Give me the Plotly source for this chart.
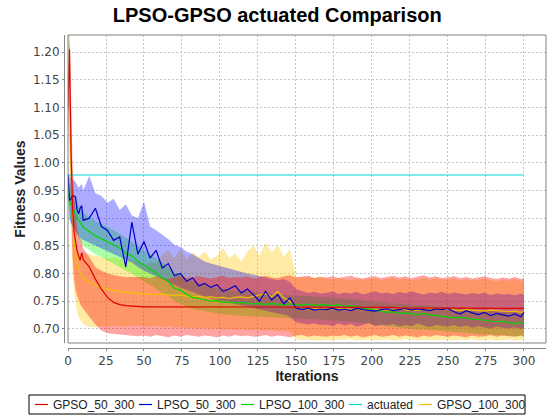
import plotly.graph_objects as go

# ---------------- data ----------------
ITER = list(range(10)) + list(range(10, 299, 4)) + [300]

GPSO_50_MEAN = [1.100, 1.205, 1.020, 0.920, 0.875, 0.852, 0.840, 0.832, 0.824, 0.838,
                0.825, 0.812, 0.790, 0.772, 0.757, 0.748, 0.744, 0.742, 0.741, 0.741,
                0.740, 0.740, 0.740, 0.740, 0.740, 0.739, 0.739, 0.739, 0.739, 0.739,
                0.739, 0.739, 0.739, 0.739, 0.739, 0.739, 0.739, 0.739, 0.739, 0.739,
                0.739, 0.739, 0.739, 0.739, 0.740, 0.739, 0.739, 0.739, 0.739, 0.739,
                0.739, 0.739, 0.739, 0.739, 0.739, 0.739, 0.739, 0.739, 0.739, 0.739,
                0.739, 0.739, 0.738, 0.738, 0.738, 0.738, 0.738, 0.738, 0.738, 0.738,
                0.738, 0.738, 0.738, 0.738, 0.738, 0.738, 0.738, 0.737, 0.737, 0.737,
                0.737, 0.737, 0.737, 0.737]
GPSO_50_UP = [1.150, 1.232, 1.120, 1.000, 0.940, 0.905, 0.885, 0.870, 0.862, 0.858,
              0.845, 0.830, 0.812, 0.805, 0.800, 0.797, 0.795, 0.794, 0.794, 0.795,
              0.794, 0.792, 0.795, 0.793, 0.790, 0.794, 0.796, 0.792, 0.793, 0.795,
              0.793, 0.791, 0.794, 0.796, 0.792, 0.794, 0.793, 0.795, 0.791, 0.794,
              0.796, 0.793, 0.792, 0.795, 0.797, 0.793, 0.794, 0.796, 0.792, 0.794,
              0.793, 0.795, 0.792, 0.794, 0.796, 0.793, 0.791, 0.794, 0.795, 0.792,
              0.794, 0.796, 0.793, 0.795, 0.792, 0.794, 0.797, 0.793, 0.795, 0.792,
              0.793, 0.795, 0.792, 0.794, 0.791, 0.793, 0.795, 0.792, 0.790, 0.793,
              0.791, 0.794, 0.790, 0.792]
GPSO_50_LO = [1.050, 1.150, 0.930, 0.830, 0.790, 0.770, 0.760, 0.752, 0.745, 0.740,
              0.735, 0.722, 0.708, 0.697, 0.692, 0.690, 0.689, 0.688, 0.688, 0.687,
              0.688, 0.686, 0.689, 0.687, 0.685, 0.688, 0.686, 0.689, 0.687, 0.686,
              0.688, 0.687, 0.685, 0.688, 0.686, 0.689, 0.687, 0.688, 0.686, 0.687,
              0.689, 0.686, 0.688, 0.687, 0.685, 0.688, 0.689, 0.686, 0.688, 0.687,
              0.686, 0.688, 0.687, 0.689, 0.686, 0.688, 0.685, 0.687, 0.689, 0.686,
              0.687, 0.689, 0.686, 0.688, 0.687, 0.685, 0.688, 0.686, 0.689, 0.687,
              0.686, 0.688, 0.687, 0.685, 0.688, 0.686, 0.687, 0.689, 0.686, 0.688,
              0.687, 0.686, 0.688, 0.687]

LPSO_50_MEAN = [0.978, 0.932, 0.935, 0.941, 0.940, 0.938, 0.915, 0.908, 0.918, 0.923,
                0.896, 0.900, 0.918, 0.885, 0.878, 0.860, 0.866, 0.812, 0.893, 0.835,
                0.858, 0.828, 0.842, 0.810, 0.818, 0.796, 0.800, 0.786, 0.792, 0.778,
                0.782, 0.775, 0.780, 0.768, 0.772, 0.778, 0.765, 0.772, 0.762, 0.750,
                0.768, 0.752, 0.762, 0.745, 0.756, 0.738, 0.735, 0.737, 0.734, 0.736,
                0.735, 0.737, 0.734, 0.736, 0.733, 0.737, 0.735, 0.734, 0.732, 0.735,
                0.736, 0.733, 0.735, 0.737, 0.734, 0.736, 0.735, 0.733, 0.736, 0.735,
                0.737, 0.731, 0.727, 0.733, 0.729, 0.726, 0.730, 0.724, 0.728, 0.725,
                0.723, 0.727, 0.722, 0.730]
LPSO_50_UP = [0.980, 0.975, 0.972, 0.970, 0.968, 0.966, 0.960, 0.955, 0.958, 0.962,
              0.950, 0.976, 0.945, 0.940, 0.928, 0.935, 0.915, 0.925, 0.905, 0.900,
              0.930, 0.885, 0.878, 0.870, 0.862, 0.852, 0.848, 0.840, 0.835, 0.828,
              0.822, 0.818, 0.815, 0.812, 0.808, 0.805, 0.802, 0.800, 0.798, 0.795,
              0.792, 0.790, 0.788, 0.790, 0.785, 0.772, 0.768, 0.765, 0.767, 0.764,
              0.765, 0.768, 0.763, 0.766, 0.764, 0.767, 0.762, 0.765, 0.768, 0.764,
              0.766, 0.763, 0.767, 0.764, 0.768, 0.765, 0.762, 0.766, 0.764, 0.767,
              0.763, 0.766, 0.764, 0.762, 0.765, 0.763, 0.766, 0.761, 0.764, 0.762,
              0.763, 0.761, 0.764, 0.762]
LPSO_50_LO = [0.975, 0.900, 0.890, 0.885, 0.880, 0.875, 0.870, 0.868, 0.865, 0.862,
              0.860, 0.855, 0.850, 0.845, 0.840, 0.835, 0.830, 0.825, 0.820, 0.812,
              0.805, 0.800, 0.795, 0.790, 0.785, 0.780, 0.775, 0.770, 0.766, 0.762,
              0.758, 0.755, 0.752, 0.750, 0.748, 0.745, 0.742, 0.740, 0.738, 0.735,
              0.733, 0.730, 0.728, 0.726, 0.722, 0.712, 0.710, 0.708, 0.710, 0.707,
              0.708, 0.705, 0.710, 0.706, 0.709, 0.704, 0.707, 0.711, 0.705, 0.708,
              0.706, 0.709, 0.704, 0.707, 0.705, 0.710, 0.706, 0.703, 0.707, 0.705,
              0.704, 0.707, 0.703, 0.706, 0.702, 0.705, 0.703, 0.701, 0.704, 0.702,
              0.701, 0.703, 0.700, 0.702]

LPSO_100_MEAN = [0.950, 0.930, 0.924, 0.918, 0.911, 0.905, 0.899, 0.896, 0.892, 0.888,
                 0.884, 0.876, 0.868, 0.863, 0.857, 0.851, 0.846, 0.837, 0.832, 0.822,
                 0.815, 0.808, 0.801, 0.792, 0.786, 0.773, 0.770, 0.762, 0.757, 0.755,
                 0.752, 0.750, 0.751, 0.748, 0.749, 0.747, 0.748, 0.746, 0.745, 0.746,
                 0.744, 0.746, 0.745, 0.743, 0.745, 0.744, 0.743, 0.745, 0.742, 0.744,
                 0.743, 0.742, 0.744, 0.741, 0.742, 0.740, 0.738, 0.735, 0.733, 0.731,
                 0.730, 0.731, 0.728, 0.729, 0.727, 0.726, 0.728, 0.725, 0.724, 0.723,
                 0.722, 0.720, 0.721, 0.719, 0.718, 0.717, 0.716, 0.715, 0.713, 0.714,
                 0.711, 0.709, 0.712, 0.708]
LPSO_100_UP = [0.975, 0.960, 0.952, 0.945, 0.938, 0.932, 0.926, 0.922, 0.918, 0.914,
               0.910, 0.902, 0.895, 0.890, 0.884, 0.878, 0.872, 0.864, 0.858, 0.850,
               0.842, 0.835, 0.828, 0.820, 0.812, 0.802, 0.798, 0.790, 0.785, 0.782,
               0.778, 0.775, 0.774, 0.772, 0.771, 0.769, 0.768, 0.767, 0.766, 0.765,
               0.764, 0.763, 0.762, 0.762, 0.761, 0.760, 0.760, 0.759, 0.758, 0.758,
               0.757, 0.757, 0.756, 0.755, 0.755, 0.754, 0.752, 0.750, 0.749, 0.748,
               0.747, 0.746, 0.745, 0.745, 0.744, 0.743, 0.743, 0.742, 0.741, 0.740,
               0.739, 0.738, 0.738, 0.737, 0.736, 0.735, 0.734, 0.733, 0.732, 0.732,
               0.731, 0.730, 0.730, 0.729]
LPSO_100_LO = [0.930, 0.900, 0.892, 0.885, 0.878, 0.872, 0.866, 0.862, 0.858, 0.854,
               0.850, 0.842, 0.835, 0.830, 0.825, 0.818, 0.812, 0.805, 0.800, 0.792,
               0.786, 0.780, 0.773, 0.765, 0.760, 0.750, 0.746, 0.740, 0.736, 0.734,
               0.731, 0.729, 0.728, 0.726, 0.726, 0.724, 0.724, 0.723, 0.722, 0.722,
               0.721, 0.721, 0.720, 0.720, 0.719, 0.719, 0.718, 0.718, 0.717, 0.717,
               0.716, 0.716, 0.715, 0.714, 0.714, 0.713, 0.711, 0.709, 0.707, 0.705,
               0.704, 0.703, 0.702, 0.701, 0.700, 0.699, 0.699, 0.698, 0.697, 0.696,
               0.695, 0.694, 0.694, 0.693, 0.692, 0.691, 0.690, 0.690, 0.689, 0.688,
               0.688, 0.687, 0.687, 0.686]

ACTUATED_VALUE = 0.978

GPSO_100_MEAN = [1.170, 1.120, 0.990, 0.905, 0.860, 0.838, 0.822, 0.810, 0.802, 0.797,
                 0.792, 0.785, 0.779, 0.775, 0.772, 0.769, 0.767, 0.766, 0.765, 0.764,
                 0.764, 0.763, 0.762, 0.763, 0.761, 0.760, 0.761, 0.759, 0.758, 0.759,
                 0.757, 0.758, 0.756, 0.757, 0.755, 0.757, 0.758, 0.756, 0.759, 0.761,
                 0.764, 0.758, 0.768, 0.756, 0.750, 0.739, 0.736, 0.735, 0.736, 0.737,
                 0.736, 0.735, 0.736, 0.737, 0.735, 0.736, 0.734, 0.735, 0.736, 0.734,
                 0.735, 0.734, 0.736, 0.735, 0.733, 0.734, 0.735, 0.737, 0.736, 0.735,
                 0.736, 0.734, 0.733, 0.735, 0.734, 0.733, 0.732, 0.734, 0.733, 0.732,
                 0.731, 0.732, 0.730, 0.731]
GPSO_100_UP = [1.232, 1.232, 1.080, 0.960, 0.900, 0.870, 0.850, 0.840, 0.832, 0.828,
               0.840, 0.835, 0.832, 0.830, 0.828, 0.830, 0.826, 0.828, 0.825, 0.822,
               0.815, 0.820, 0.818, 0.835, 0.842, 0.828, 0.845, 0.826, 0.838, 0.830,
               0.840, 0.825, 0.832, 0.846, 0.828, 0.836, 0.822, 0.840, 0.850, 0.832,
               0.856, 0.838, 0.852, 0.830, 0.845, 0.795, 0.793, 0.794, 0.792, 0.795,
               0.791, 0.789, 0.792, 0.790, 0.788, 0.791, 0.789, 0.790, 0.792, 0.789,
               0.790, 0.792, 0.789, 0.791, 0.788, 0.790, 0.792, 0.789, 0.791, 0.790,
               0.789, 0.791, 0.788, 0.790, 0.787, 0.789, 0.791, 0.788, 0.786, 0.789,
               0.787, 0.790, 0.786, 0.788]
GPSO_100_LO = [1.080, 1.000, 0.880, 0.800, 0.765, 0.745, 0.730, 0.722, 0.716, 0.712,
               0.708, 0.704, 0.703, 0.705, 0.704, 0.706, 0.705, 0.704, 0.706, 0.705,
               0.705, 0.704, 0.706, 0.703, 0.705, 0.702, 0.704, 0.701, 0.703, 0.700,
               0.702, 0.700, 0.701, 0.699, 0.700, 0.698, 0.700, 0.697, 0.699, 0.698,
               0.697, 0.698, 0.696, 0.697, 0.695, 0.682, 0.680, 0.681, 0.679, 0.680,
               0.680, 0.679, 0.681, 0.680, 0.682, 0.679, 0.680, 0.681, 0.679, 0.680,
               0.681, 0.679, 0.680, 0.682, 0.680, 0.679, 0.681, 0.680, 0.679, 0.681,
               0.680, 0.679, 0.681, 0.680, 0.682, 0.679, 0.680, 0.681, 0.679, 0.680,
               0.681, 0.679, 0.680, 0.680]

SERIES_NAMES = ["GPSO_50_300", "LPSO_50_300", "LPSO_100_300", "actuated", "GPSO_100_300"]
X_TICKS = [0, 25, 50, 75, 100, 125, 150, 175, 200, 225, 250, 275, 300]
Y_TICKS = [0.70, 0.75, 0.80, 0.85, 0.90, 0.95, 1.00, 1.05, 1.10, 1.15, 1.20]

# ---------------- styling ----------------
LINE_COL = {"GPSO_50_300": "#e00000", "LPSO_50_300": "#0000c8", "LPSO_100_300": "#00d800",
            "actuated": "#00d8d8", "GPSO_100_300": "#f0c000"}
BAND_COL = {"GPSO_50_300": "rgba(255,0,0,0.36)", "LPSO_50_300": "rgba(0,0,255,0.33)",
            "LPSO_100_300": "rgba(0,255,0,0.33)", "GPSO_100_300": "rgba(255,200,0,0.36)"}

series = {
    "GPSO_50_300": (GPSO_50_MEAN, GPSO_50_UP, GPSO_50_LO),
    "LPSO_50_300": (LPSO_50_MEAN, LPSO_50_UP, LPSO_50_LO),
    "LPSO_100_300": (LPSO_100_MEAN, LPSO_100_UP, LPSO_100_LO),
    "actuated": ([ACTUATED_VALUE] * len(ITER), None, None),
    "GPSO_100_300": (GPSO_100_MEAN, GPSO_100_UP, GPSO_100_LO),
}

draw_order = list(reversed(SERIES_NAMES))  # series 0 drawn last (on top)

fig = go.Figure()
# bands first
for name in draw_order:
    mean, up, lo = series[name]
    if up is None:
        continue
    fig.add_trace(go.Scatter(
        x=ITER + ITER[::-1], y=up + lo[::-1], fill="toself", fillcolor=BAND_COL[name],
        line=dict(width=0), mode="lines", hoverinfo="skip", showlegend=False))
# lines
for name in draw_order:
    mean, up, lo = series[name]
    fig.add_trace(go.Scatter(x=ITER, y=mean, mode="lines", name=name,
                             line=dict(color=LINE_COL[name], width=1.2), showlegend=False))

# geometry (pixels)
W, H = 559, 417
L, R, T, B = 64, 13, 35, 69
pw, ph = W - L - R, H - T - B
def px(p):
    return (p - L) / pw
def py(q):
    return (H - B - q) / ph

x_dom0 = px(68)
y_dom0 = py(343)

TICK_FONT = dict(family="DejaVu Sans", size=12, color="#444444")
GRID = "#c4c4c4"

fig.update_layout(
    width=W, height=H,
    margin=dict(l=L, r=R, t=T, b=B, autoexpand=False),
    paper_bgcolor="white", plot_bgcolor="white",
    title=dict(text="<b>LPSO-GPSO actuated Comparison</b>", x=0.496, xref="container",
               xanchor="center", y=1 - 15 / H, yanchor="middle",
               font=dict(family="Liberation Sans", size=20, color="black")),
    showlegend=False,
    xaxis=dict(domain=[x_dom0, 1], range=[0, 314.5], anchor="free", position=0,
               tickvals=X_TICKS, ticktext=[str(v) for v in X_TICKS],
               showline=True, linecolor="#888888", linewidth=1,
               ticks="outside", ticklen=2, tickcolor="#888888",
               showgrid=True, gridcolor=GRID, griddash="2px,2px", gridwidth=1,
               zeroline=False, tickfont=TICK_FONT,
               title=dict(text="<b>Iterations</b>", standoff=3,
                          font=dict(family="Liberation Sans", size=14, color="#222222"))),
    yaxis=dict(domain=[y_dom0, 1], range=[0.6746, 1.2308], anchor="free", position=0,
               tickvals=Y_TICKS, ticktext=["%.2f" % v for v in Y_TICKS],
               showline=True, linecolor="#888888", linewidth=1,
               ticks="outside", ticklen=2, tickcolor="#888888",
               showgrid=True, gridcolor=GRID, griddash="2px,2px", gridwidth=1,
               zeroline=False, tickfont=TICK_FONT,
               title=dict(text="<b>Fitness Values</b>", standoff=2,
                          font=dict(family="Liberation Sans", size=14, color="#222222"))),
)

# plot outline
fig.add_shape(type="rect", xref="paper", yref="paper", x0=x_dom0, x1=1, y0=y_dom0, y1=1,
              line=dict(color="#808080", width=1), layer="above")

# custom legend box (below the plot)
leg_top, leg_bot = 395, 414
fig.add_shape(type="rect", xref="paper", yref="paper", x0=px(29), x1=px(525),
              y0=py(leg_bot), y1=py(leg_top), line=dict(color="black", width=1))
text_starts = [51, 155, 257, 365, 435]
yc = py((leg_top + leg_bot) / 2)
for name, xs in zip(SERIES_NAMES, text_starts):
    fig.add_shape(type="line", xref="paper", yref="paper", x0=px(xs - 16), x1=px(xs - 3),
                  y0=yc, y1=yc, line=dict(color=LINE_COL[name], width=1.2))
    fig.add_annotation(xref="paper", yref="paper", x=px(xs), y=yc, text=name,
                       showarrow=False, xanchor="left", yanchor="middle",
                       font=dict(family="Liberation Sans", size=12, color="#222222"))

fig.write_html("out.html", config={"displayModeBar": False},
               post_script="document.body.style.margin='0';document.body.style.padding='0';"
                           "document.body.style.overflow='hidden';")
